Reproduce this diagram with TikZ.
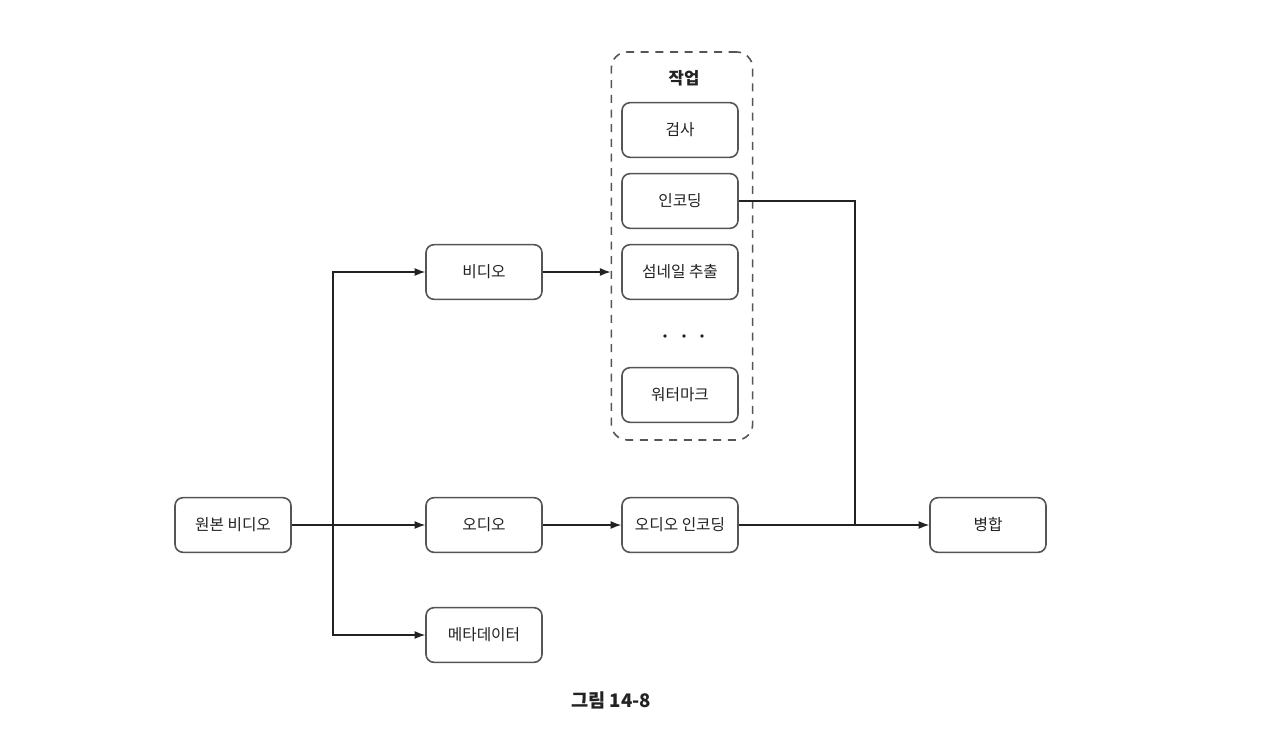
\documentclass[tikz,border=0pt]{standalone}
\usepackage{fontspec}
\setmainfont{Noto Sans CJK KR}
\usetikzlibrary{arrows.meta}
\definecolor{boxline}{HTML}{555555}
\definecolor{ink}{HTML}{222222}
\begin{document}
\begin{tikzpicture}[x=0.75pt,y=-0.75pt,
  box/.style={draw=boxline,line width=1.2pt,rounded corners=6pt,minimum width=87pt,minimum height=41pt,inner sep=0pt,font=\fontsize{11.8}{13}\selectfont,text=ink},
  conn/.style={draw=ink,line width=0.9pt},
  arr/.style={conn,-{Latex[length=8pt,width=6pt]}}]
\useasboundingbox (0,0) rectangle (1280,738);
\fill[white] (0,0) rectangle (1280,738);
% container
\node[draw=boxline,line width=1.2pt,dashed,dash pattern=on 6pt off 5pt,rounded corners=12pt,minimum width=106pt,minimum height=291pt,inner sep=0pt] (grp) at (682,246) {};
\node[font=\bfseries\fontsize{12.5}{14}\selectfont,text=ink] (title) at (684,78) {작업};
\node[box] (src) at (233,525) {원본 비디오};
\node[box] (vid) at (484,272) {비디오};
\node[box] (aud) at (484,525) {오디오};
\node[box] (meta) at (484,635) {메타데이터};
\node[box] (chk) at (680,130) {검사};
\node[box] (enc) at (680,201) {인코딩};
\node[box] (thm) at (680,272) {섬네일 추출};
\node[box] (wm) at (680,395) {워터마크};
\node[box] (aenc) at (680,525) {오디오 인코딩};
\node[box] (merge) at (988,525) {병합};
\foreach \xx/\nm in {665/d1,684/d2,702/d3} \fill[ink] (\xx,336) circle (1.4pt) coordinate (\nm);
\coordinate (br) at (333,525);
\coordinate (jn) at (855,525);
% connectors
\draw[arr] (src.east) -- (aud.west);
\draw[arr] (br) |- (vid.west);
\draw[arr] (br) |- (meta.west);
\draw[arr] (vid.east) -- (vid.east -| grp.west);
\draw[arr] (aud.east) -- (aenc.west);
\draw[arr] (aenc.east) -- (merge.west);
\draw[conn] (enc.east) -| (jn);
\node[font=\bfseries\fontsize{14}{16}\selectfont,text=ink] (cap) at (611,700) {그림 14-8};
\end{tikzpicture}
\end{document}
